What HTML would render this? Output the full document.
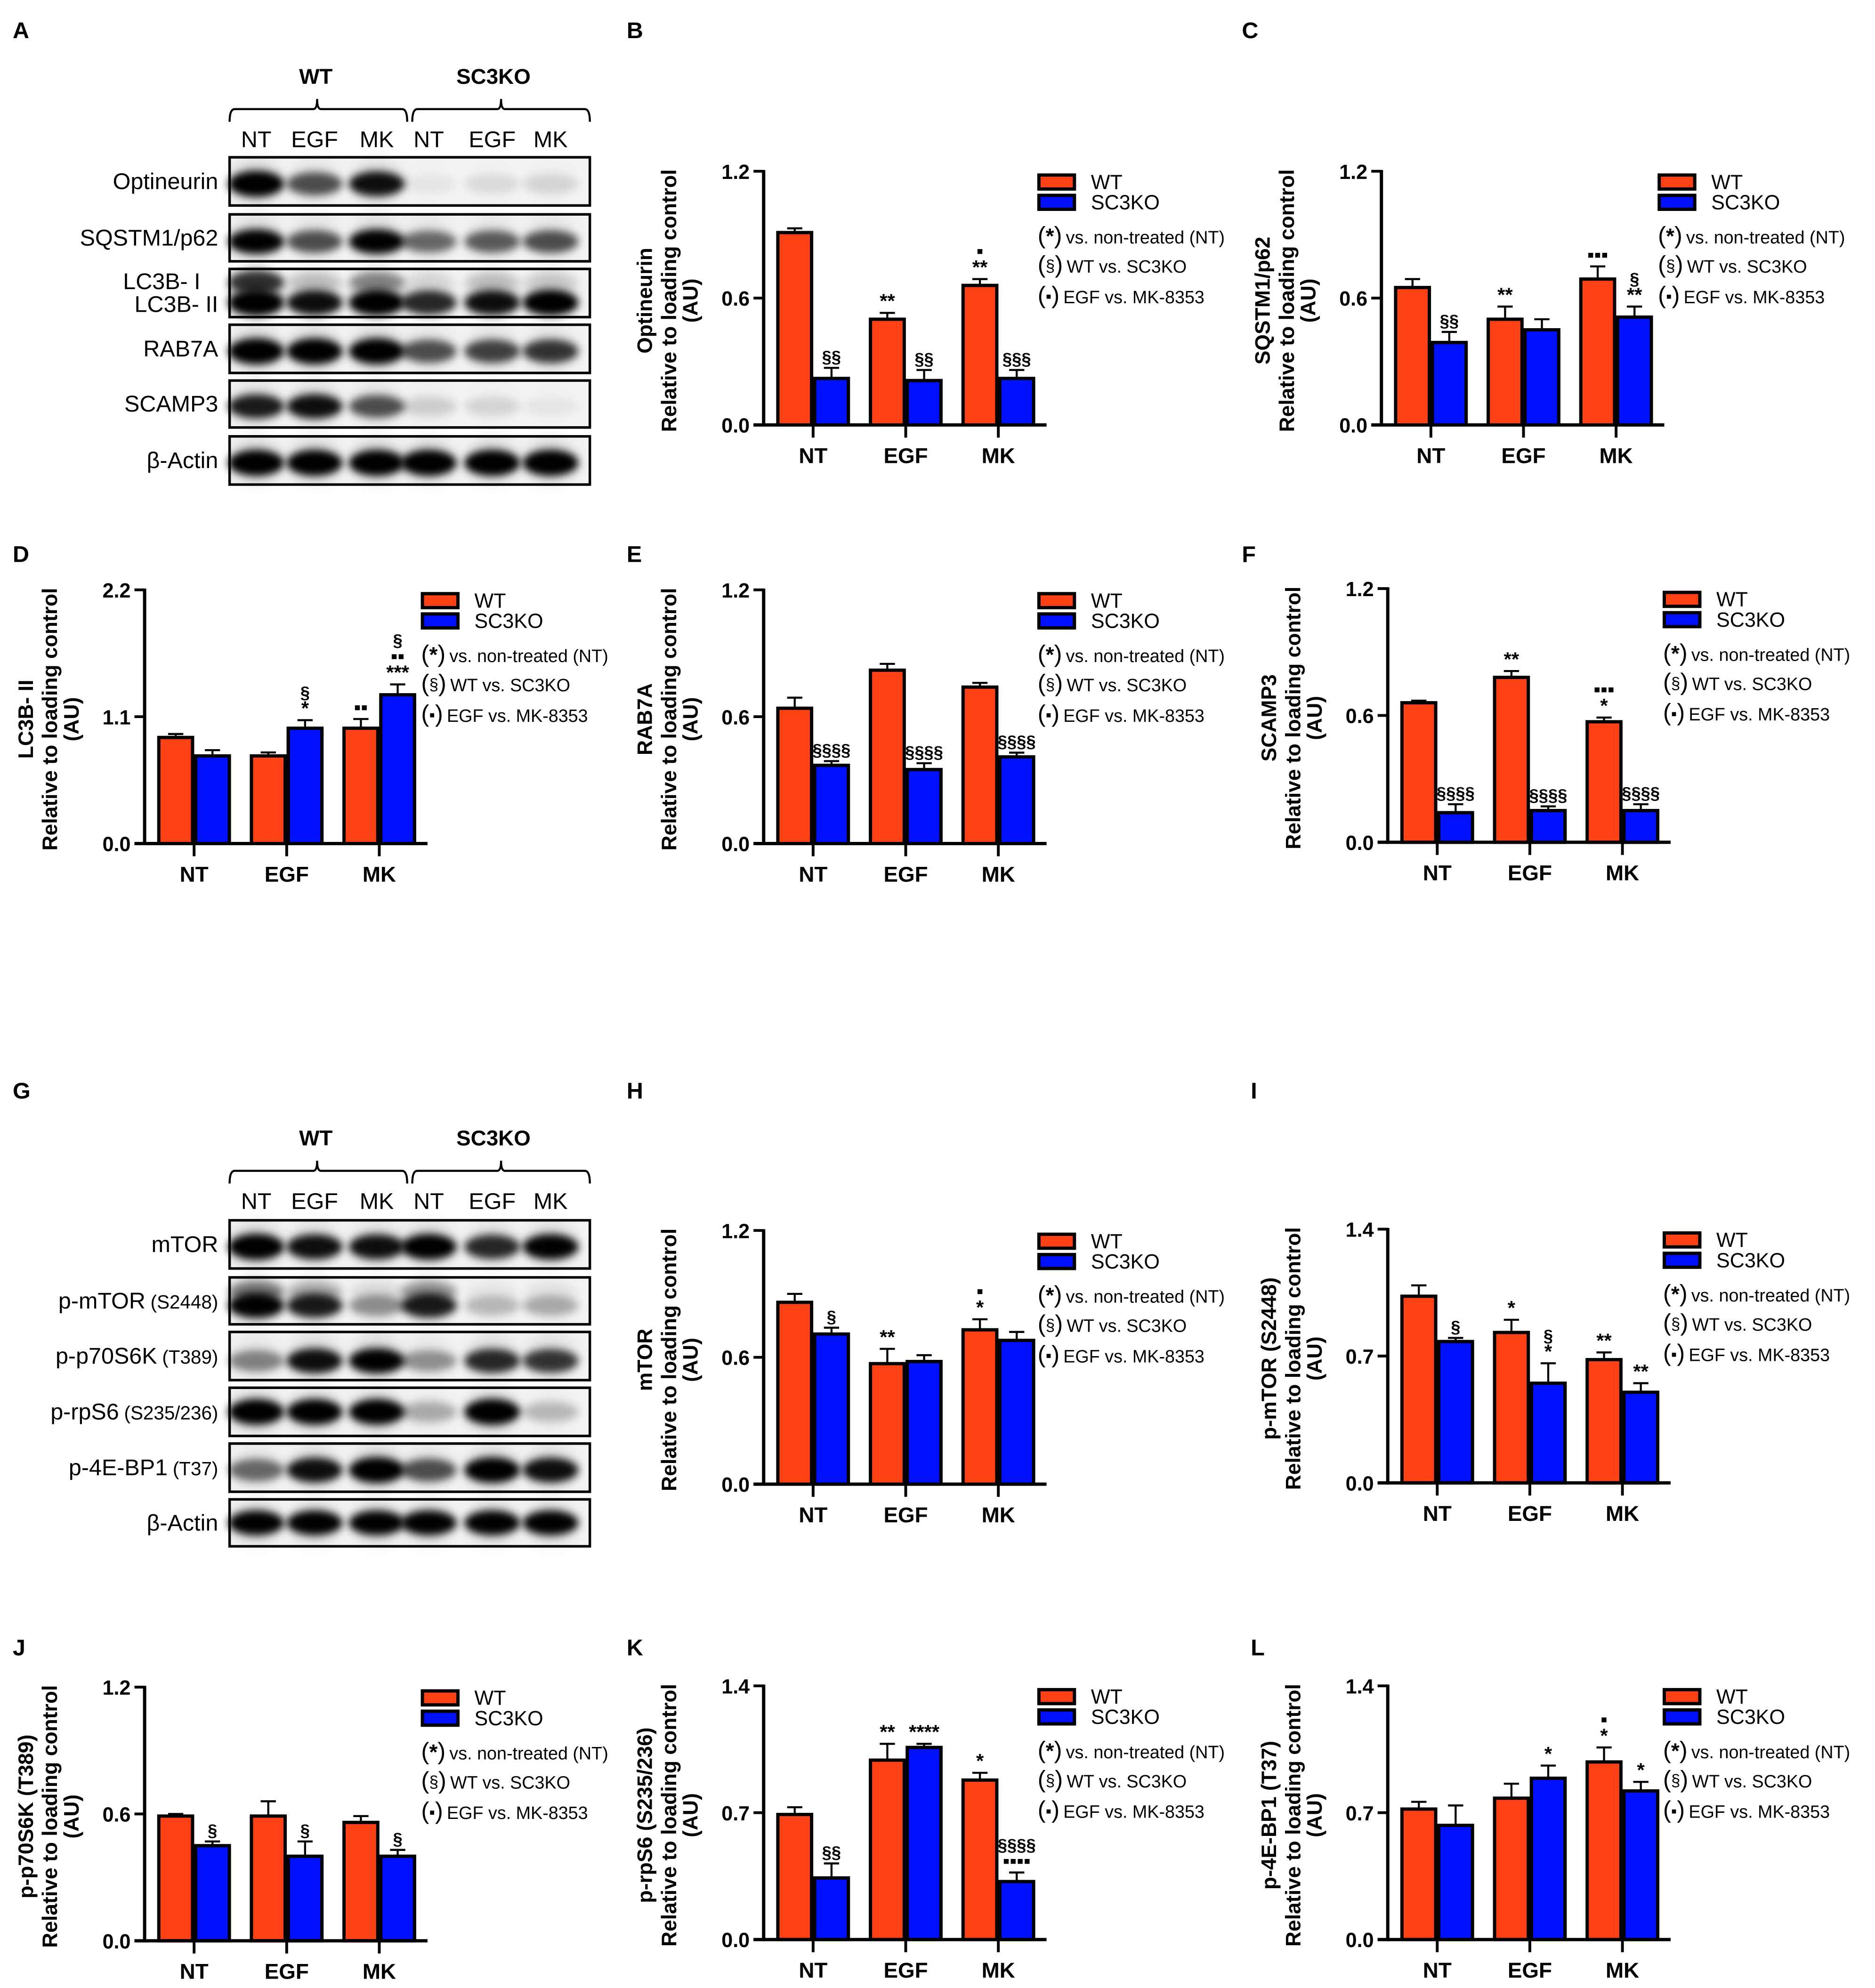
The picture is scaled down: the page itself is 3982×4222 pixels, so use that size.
<!DOCTYPE html>
<html><head><meta charset="utf-8">
<style>
html,body{margin:0;padding:0;background:#fff;}
svg{display:block;}
text{font-family:"Liberation Sans",Arial,sans-serif;}
</style></head>
<body>
<svg id="fig" width="3982" height="4222" viewBox="0 0 1478.1 1567.2" preserveAspectRatio="none" xmlns="http://www.w3.org/2000/svg">
<defs>
<filter id="blur" x="-50%" y="-100%" width="200%" height="300%"><feGaussianBlur stdDeviation="3.2"/></filter>
<filter id="blur2" x="-50%" y="-100%" width="200%" height="300%"><feGaussianBlur stdDeviation="6"/></filter>
</defs>
</svg>
<script>
// ===== chart data =====
const categories = ['NT','EGF','MK'];
const bWT=[0.91,0.50,0.66], bWTErr=[0.02,0.03,0.03], bKO=[0.22,0.21,0.22], bKOErr=[0.05,0.05,0.04];
const bWTAnn=['','**','▪\n**'], bKOAnn=['§§','§§','§§§'];
const cWT=[0.65,0.50,0.69], cWTErr=[0.04,0.06,0.06], cKO=[0.39,0.45,0.51], cKOErr=[0.05,0.05,0.05];
const cWTAnn=['','**','▪▪▪'], cKOAnn=['§§','','§\n**'];
const dWT=[0.92,0.76,1.00], dWTErr=[0.03,0.03,0.08], dKO=[0.76,1.00,1.29], dKOErr=[0.05,0.07,0.09];
const dWTAnn=['','','▪▪'], dKOAnn=['','§\n*','§\n▪▪\n***'];
const eWT=[0.64,0.82,0.74], eWTErr=[0.05,0.03,0.02], eKO=[0.37,0.35,0.41], eKOErr=[0.02,0.03,0.02];
const eWTAnn=['','',''], eKOAnn=['§§§§','§§§§','§§§§'];
const fWT=[0.66,0.78,0.57], fWTErr=[0.01,0.03,0.02], fKO=[0.14,0.15,0.15], fKOErr=[0.04,0.02,0.03];
const fWTAnn=['','**','▪▪▪\n*'], fKOAnn=['§§§§','§§§§','§§§§'];
const hWT=[0.86,0.57,0.73], hWTErr=[0.04,0.07,0.05], hKO=[0.71,0.58,0.68], hKOErr=[0.03,0.03,0.04];
const hWTAnn=['','**','▪\n*'], hKOAnn=['§','',''];
const iWT=[1.03,0.83,0.68], iWTErr=[0.06,0.07,0.04], iKO=[0.78,0.55,0.50], iKOErr=[0.02,0.11,0.05];
const iWTAnn=['','*','**'], iKOAnn=['§','§\n*','**'];
const jWT=[0.59,0.59,0.56], jWTErr=[0.01,0.07,0.03], jKO=[0.45,0.40,0.40], jKOErr=[0.02,0.07,0.03];
const jWTAnn=['','',''], jKOAnn=['§','§','§'];
const kWT=[0.69,0.99,0.88], kWTErr=[0.04,0.09,0.04], kKO=[0.34,1.06,0.32], kKOErr=[0.08,0.02,0.05];
const kWTAnn=['','**','*'], kKOAnn=['§§','****','§§§§\n▪▪▪▪'];
const lWT=[0.72,0.78,0.98], lWTErr=[0.04,0.08,0.08], lKO=[0.63,0.89,0.82], lKOErr=[0.11,0.07,0.05];
const lWTAnn=['','','▪\n*'], lKOAnn=['','*','*'];
const ticks12=[0,0.6,1.2], tickLab12=['0.0','0.6','1.2'];
const ticks14=[0,0.7,1.4], tickLab14=['0.0','0.7','1.4'];
const ticks22=[0,1.1,2.2], tickLab22=['0.0','1.1','2.2'];

const NS='http://www.w3.org/2000/svg';
const svg=document.getElementById('fig');
function el(tag,attrs,parent,txt){const e=document.createElementNS(NS,tag);for(const k in attrs)e.setAttribute(k,attrs[k]);if(txt!==undefined)e.textContent=txt;(parent||svg).appendChild(e);return e;}

const panels=[
 {id:'b',ax:602,top:135,max:1.2,t:ticks12,tl:tickLab12,wt:bWT,we:bWTErr,ko:bKO,ke:bKOErr,wa:bWTAnn,ka:bKOAnn,title:'Optineurin',lx:818},
 {id:'c',ax:1089,top:135,max:1.2,t:ticks12,tl:tickLab12,wt:cWT,we:cWTErr,ko:cKO,ke:cKOErr,wa:cWTAnn,ka:cKOAnn,title:'SQSTM1/p62',lx:1307},
 {id:'d',ax:114,top:465,max:2.2,t:ticks22,tl:tickLab22,wt:dWT,we:dWTErr,ko:dKO,ke:dKOErr,wa:dWTAnn,ka:dKOAnn,title:'LC3B- II',lx:332},
 {id:'e',ax:602,top:465,max:1.2,t:ticks12,tl:tickLab12,wt:eWT,we:eWTErr,ko:eKO,ke:eKOErr,wa:eWTAnn,ka:eKOAnn,title:'RAB7A',lx:818},
 {id:'f',ax:1094,top:464,max:1.2,t:ticks12,tl:tickLab12,wt:fWT,we:fWTErr,ko:fKO,ke:fKOErr,wa:fWTAnn,ka:fKOAnn,title:'SCAMP3',lx:1311},
 {id:'h',ax:602,top:970,max:1.2,t:ticks12,tl:tickLab12,wt:hWT,we:hWTErr,ko:hKO,ke:hKOErr,wa:hWTAnn,ka:hKOAnn,title:'mTOR',lx:818},
 {id:'i',ax:1094,top:969,max:1.4,t:ticks14,tl:tickLab14,wt:iWT,we:iWTErr,ko:iKO,ke:iKOErr,wa:iWTAnn,ka:iKOAnn,title:'p-mTOR (S2448)',lx:1311},
 {id:'j',ax:114,top:1330,max:1.2,t:ticks12,tl:tickLab12,wt:jWT,we:jWTErr,ko:jKO,ke:jKOErr,wa:jWTAnn,ka:jKOAnn,title:'p-p70S6K (T389)',lx:332},
 {id:'k',ax:602,top:1329,max:1.4,t:ticks14,tl:tickLab14,wt:kWT,we:kWTErr,ko:kKO,ke:kKOErr,wa:kWTAnn,ka:kKOAnn,title:'p-rpS6 (S235/236)',lx:818},
 {id:'l',ax:1094,top:1329,max:1.4,t:ticks14,tl:tickLab14,wt:lWT,we:lWTErr,ko:lKO,ke:lKOErr,wa:lWTAnn,ka:lKOAnn,title:'p-4E-BP1 (T37)',lx:1311}
];

function drawAnn(g,str,x,y){
  if(!str)return;
  const lines=str.split('\n');
  for(let i=lines.length-1,k=0;i>=0;i--,k++){
    const t=el('text',{x:x,y:y-k*13,'text-anchor':'middle','font-size':lines[i].includes('§')?13.5:15.5,'font-weight':'bold'},g,lines[i]);
    
    
  }
}

function drawChart(p){
  const g=el('g',{},svg);
  
  
  const H=200, y0=p.top+H;
  const ys=v=>y0-v/p.max*H;
  const xs=i=>p.ax+39+73*i;
  categories.forEach((c,i)=>{
    const tx=xs(i);
    [[p.wt,p.we,p.wa,-29,'#ff4215','wt'],[p.ko,p.ke,p.ka,0,'#0010ff','ko']].forEach(s=>{
      const v=s[0][i], e=s[1][i];
      const bx=tx+s[3]+1.2, bw=26.6;
      const eTop=ys(v+e);
      const l=el('line',{x1:bx+bw/2,x2:bx+bw/2,y1:ys(v),y2:eTop,stroke:'#000','stroke-width':1.6},g);
      
      
      const cap=el('line',{x1:bx+bw/2-6,x2:bx+bw/2+6,y1:eTop,y2:eTop,stroke:'#000','stroke-width':1.6},g);
      
      
      const r=el('rect',{x:bx,y:ys(v),width:bw,height:y0-ys(v),fill:s[4],stroke:'#000','stroke-width':2.6},g);
      
      
      drawAnn(g,s[2][i],bx+bw/2,eTop-4);
    });
    const tk=el('line',{x1:tx,x2:tx,y1:y0,y2:y0+10,stroke:'#000','stroke-width':2.2},g);
    
    
    const lb=el('text',{x:tx,y:y0+30,'text-anchor':'middle','font-size':17,'font-weight':'bold'},g,c);
    
    
  });
  const ya=el('line',{x1:p.ax,x2:p.ax,y1:p.top-1,y2:y0+1.3,stroke:'#000','stroke-width':2.6},g);
  
  
  const xa=el('line',{x1:p.ax-8,x2:p.ax+223,y1:y0,y2:y0,stroke:'#000','stroke-width':2.6},g);
  
  
  p.t.forEach((v,k)=>{
    const tl=el('line',{x1:p.ax-8,x2:p.ax,y1:ys(v),y2:ys(v),stroke:'#000','stroke-width':2.2},g);
    
    
    const tt=el('text',{x:p.ax-11,y:ys(v)+6,'text-anchor':'end','font-size':16,'font-weight':'bold'},g,p.tl[k]);
    
    
  });
  const cy=p.top+H/2+2;
  [[p.title,-88],['Relative to loading control',-69],['(AU)',-52]].forEach(a=>{
    const x=p.ax+a[1];
    const t=el('text',{x:x,y:cy,'text-anchor':'middle','font-size':16.5,'font-weight':'bold',transform:`rotate(-90 ${x} ${cy})`},g,a[0]);
    
    
  });
  const lx=p.lx, ly=p.top;
  [['WT','#ff4215',ly+3],['SC3KO','#0010ff',ly+19]].forEach(a=>{
    const r=el('rect',{x:lx+1,y:a[2],width:28,height:11,fill:a[1],stroke:'#000','stroke-width':2.6},g);
    
    
    const t=el('text',{x:lx+42,y:a[2]+11,'font-size':16},g,a[0]);
    
    
  });
  [['*','vs. non-treated (NT)',ly+57],['§','WT vs. SC3KO',ly+80],['▪','EGF vs. MK-8353',ly+104]].forEach(a=>{
    const t=el('text',{x:lx,y:a[2],'font-size':14},g);
    
    
    el('tspan',{'font-size':19},t,'(');
    el('tspan',{'font-size':a[0]=='*'?17:13,'font-weight':a[0]=='*'?'bold':'normal',dy:a[0]=='*'?0:-1},t,a[0]);
    el('tspan',{'font-size':19,dy:a[0]=='*'?0:1},t,')');
    el('tspan',{dx:3},t,a[1]);
  });
}
panels.forEach(drawChart);

[['A',10,30],['B',494,30],['C',979,30],['D',10,443],['E',494,443],['F',979,443],['G',10,866],['H',494,866],['I',986,866],['J',10,1305],['K',494,1305],['L',986,1305]].forEach(a=>{
  const t=el('text',{x:a[1],y:a[2],'font-size':18,'font-weight':'bold'},svg,a[0]);
  
  
});

// ===== western blots =====
const laneX=[202,248,297,338,388,434];
const laneLabels=['NT','EGF','MK','NT','EGF','MK'];
const blotA=[
 {label:'Optineurin',top:124,bot:162,bands:[[0.55,[1,0.6,0.85,0.04,0.08,0.1]]]},
 {label:'SQSTM1/p62',top:169,bot:206,bands:[[0.58,[0.9,0.6,0.9,0.5,0.55,0.6]]]},
 {label:'LC3B',top:212,bot:250,bands:[[0.28,[0.7,0.12,0.35,0.04,0.12,0.08]],[0.7,[1,0.85,0.95,0.75,0.85,0.95]]]},
 {label:'RAB7A',top:256,bot:294,bands:[[0.55,[1,1,1,0.6,0.65,0.7]]]},
 {label:'SCAMP3',top:300,bot:337,bands:[[0.55,[0.8,0.85,0.6,0.12,0.1,0.04]]]},
 {label:'β-Actin',top:344,bot:382,bands:[[0.55,[1,1,1,1,1,1]]]}
];
const blotG=[
 {label:'mTOR',top:962,bot:1000,bands:[[0.55,[1,0.85,0.85,0.95,0.75,0.9]]]},
 {label:'p-mTOR',sub:'(S2448)',top:1007,bot:1044,bands:[[0.3,[0.4,0.2,0.05,0.3,0.02,0.03]],[0.6,[0.9,0.8,0.35,0.8,0.2,0.25]]]},
 {label:'p-p70S6K',sub:'(T389)',top:1050,bot:1088,bands:[[0.6,[0.4,0.85,0.9,0.35,0.75,0.7]]]},
 {label:'p-rpS6',sub:'(S235/236)',top:1094,bot:1132,bands:[[0.5,[0.95,0.95,0.95,0.25,1,0.2]]]},
 {label:'p-4E-BP1',sub:'(T37)',top:1138,bot:1176,bands:[[0.55,[0.5,0.85,1,0.6,0.95,0.85]]]},
 {label:'β-Actin',top:1182,bot:1219,bands:[[0.5,[0.9,0.9,0.9,0.9,0.9,0.9]]]}
];
function drawBlot(name,rows,wtY,laneY){
  const g=el('g',{},svg);
  
  
  const t1=el('text',{x:249,y:wtY,'text-anchor':'middle','font-size':17,'font-weight':'bold'},g,'WT');
  
  
  const t2=el('text',{x:389,y:wtY,'text-anchor':'middle','font-size':17,'font-weight':'bold'},g,'SC3KO');
  
  
  [[181,321,250],[325,465,395]].forEach(b=>{
    const by=wtY+20;
    const p=el('path',{d:`M${b[0]},${by+10} Q${b[0]},${by} ${b[0]+4},${by} L${b[2]-3},${by} Q${b[2]},${by} ${b[2]},${by-8} Q${b[2]},${by} ${b[2]+3},${by} L${b[1]-4},${by} Q${b[1]},${by} ${b[1]},${by+10}`,fill:'none',stroke:'#000','stroke-width':1.6},g);
    
    
  });
  laneLabels.forEach((l,i)=>{
    const t=el('text',{x:laneX[i],y:laneY,'text-anchor':'middle','font-size':18},g,l);
    
    
  });
  rows.forEach(r=>{
    const rg=el('g',{},g);
    
    
    el('rect',{x:181,y:r.top,width:284,height:r.bot-r.top,fill:'#f2f2f2'},rg);
    const h=r.bot-r.top;
    r.bands.forEach(b=>{
      b[1].forEach((v,i)=>{
        const e=el('ellipse',{cx:laneX[i],cy:r.top+h*b[0],rx:22,ry:h*0.19+v*3,fill:'#000',opacity:Math.min(1,v*1.1),filter:'url(#blur)'},rg);
        
        
        el('ellipse',{cx:laneX[i],cy:r.top+h*0.5,rx:19,ry:h*0.45,fill:'#000',opacity:v*0.12,filter:'url(#blur2)'},rg);
      });
    });
    el('rect',{x:181,y:r.top,width:284,height:h,fill:'none',stroke:'#000','stroke-width':2},rg);
    if(r.label==='LC3B'){
      const a=el('text',{x:158,y:r.top+16,'text-anchor':'end','font-size':18},rg,'LC3B- I');
       
      const b=el('text',{x:172,y:r.top+34,'text-anchor':'end','font-size':18},rg,'LC3B- II');
       
    } else {
      const t=el('text',{x:172,y:r.top+h/2+6,'text-anchor':'end','font-size':18},rg,r.label);
      
      
      if(r.sub){el('tspan',{'font-size':15,dx:4},t,r.sub);}
    }
  });
}
drawBlot('western-blot-a',blotA,66,116);
drawBlot('western-blot-g',blotG,903,953);
</script>
</body></html>
